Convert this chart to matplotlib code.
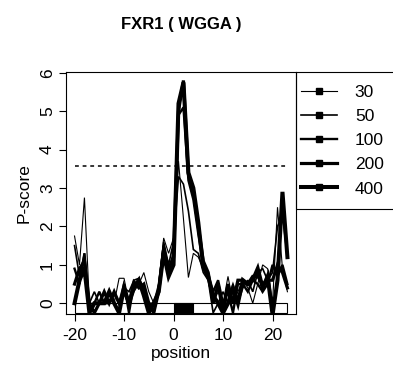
import numpy as np
import matplotlib.pyplot as plt
from matplotlib.patches import Rectangle
from matplotlib.lines import Line2D

plt.rcParams['font.family'] = ['Liberation Sans', 'DejaVu Sans']
plt.rcParams['axes.unicode_minus'] = False

# positions relative to the motif start
position = list(range(-20, 24))
motif_start, motif_width = 0, 4
threshold = 3.57

labels = ["30", "50", "100", "200", "400"]
widths = [0.8, 1.2, 1.7, 2.3, 2.9]

s30 = [1.75, 1.0, 2.75, 0, 0, 0.3, 0, 0.3, 0, 0.65, 0.65, 0, 0.3, 0.5, 0.8, 0.3, 0, 0.3,
       1.7, 1.3, 1.7, 3.7, 2.2, 0.67, 1.3, 1.2, 0.9, 0.6, 0, 0.3, 0, 0.7, 0, 0.3, 0.6, 0.4,
       0, 0.5, 1.0, 0.9, 0, 2.5, 0.9, 0.3]
s50 = [1.5, 0.7, 1.3, 0, 0.3, 0, 0, 0, 0.3, 0, 0.4, 0.3, 0.6, 0.65, 0.4, 0, 0, 0.5,
       1.6, 1.0, 1.6, 3.3, 3.1, 2.4, 1.4, 1.3, 0.8, 0.6, -0.25, 0, 0.3, 0, 0.5, 0, 0.4, 0.6,
       0.3, 0.8, 0.9, 0.6, 0.8, 2.0, 2.3, 1.2]
s100 = [0.9, 0.5, 1.3, -0.25, 0, 0.3, 0, 0, 0.25, 0, 0.5, -0.25, 0.5, 0.6, 0.3, 0, -0.25, 0.4,
        1.5, 0.8, 1.3, 4.9, 5.1, 3.2, 2.7, 1.8, 1.0, 0.7, 0.3, 0.6, 0, 0.3, -0.25, 0.5, 0.5, 0.3,
        0.6, 0.5, 0.3, 0.5, 1.0, 0.7, 1.0, 0.5]
s200 = [0.5, 0.9, 1.1, 0, -0.25, 0, 0.3, 0, 0.3, 0, 0.3, 0, 0.55, 0.4, 0.5, 0, -0.25, 0.3,
        1.4, 0.9, 1.2, 5.0, 5.8, 3.35, 2.9, 2.0, 1.1, 0.8, 0, 0.5, -0.25, 0.5, 0, 0.6, 0.6, 0.5,
        0.7, 0.7, 0.5, 0.6, 0.6, 1.0, 0.8, 0.4]
s400 = [0, 0.6, 0.9, -0.25, 0, 0, 0, 0.3, 0, -0.25, 0.4, 0, 0.4, 0.6, 0.2, -0.25, 0, 0.3,
        1.3, 0.7, 1.0, 5.2, 5.75, 3.4, 3.0, 2.1, 0.95, 0.7, 0.2, 0, -0.25, 0, 0.4, 0, 0.6, 0.5,
        0.6, 0.9, 0.4, 0.7, -0.3, 0.6, 2.9, 1.2]
series = [s30, s50, s100, s200, s400]

fig = plt.figure(figsize=(3.93, 3.65), dpi=100)
ax = fig.add_axes([0.168, 0.1397, 0.585, 0.663])

# motif strip along the bottom
ax.add_patch(Rectangle((position[0], -0.25), position[-1] - position[0], 0.25,
                       fill=False, edgecolor='black', lw=0.8))
ax.add_patch(Rectangle((motif_start, -0.25), motif_width, 0.25,
                       facecolor='black', edgecolor='black', lw=0.8))

for s, lw in zip(series, widths):
    ax.plot(position, s, color='black', lw=lw, solid_joinstyle='miter')

ax.plot([position[0], position[-1]], [threshold, threshold], color='black',
        lw=1.1, dashes=(2.5, 2.5))

ax.set_xlim(-21.72, 24.72)
ax.set_ylim(-0.28, 6.02)
ax.set_xticks([-20, -10, 0, 10, 20])
ax.set_yticks(range(0, 7))
ax.tick_params(direction='out', length=5, width=0.8, labelsize=12.5)
ax.tick_params(axis='x', pad=5)
ax.tick_params(axis='y', pad=3)
for t in ax.get_yticklabels():
    t.set_rotation(90)
    t.set_va('center')
for sp in ax.spines.values():
    sp.set_linewidth(0.8)
ax.set_xlabel('position', fontsize=12.5, labelpad=2)
ax.set_ylabel('P-score', fontsize=12.5, labelpad=6)

fig.text(181 / 393, 1 - 25 / 365, 'FXR1 ( WGGA )', ha='center', va='center',
         fontsize=12, fontweight='bold')

# legend box sits against the right edge of the plot and runs off the figure
fig.patches.append(Rectangle((0.753, 0.4274), 0.3, 0.375, transform=fig.transFigure,
                             fill=False, edgecolor='black', lw=0.8, clip_on=False))
handles = [Line2D([], [], color='black', lw=lw, marker='s', markersize=4.5)
           for lw in widths]
fig.legend(handles, labels, loc='upper left', bbox_to_anchor=(0.766, 0.768),
           frameon=False, fontsize=12.5, handlelength=2.1, handletextpad=1.0,
           labelspacing=0.52, borderaxespad=0, borderpad=0)

fig.savefig('out.png', dpi=100)
